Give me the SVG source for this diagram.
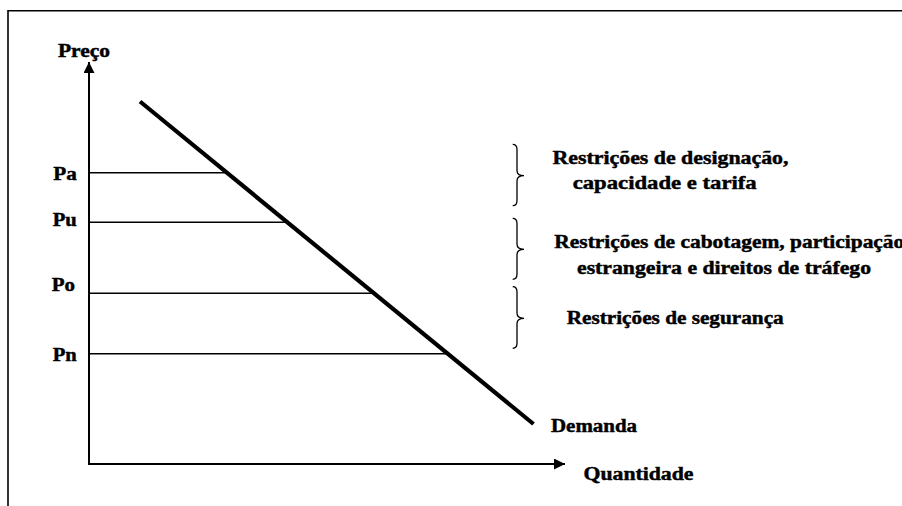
<svg xmlns="http://www.w3.org/2000/svg" width="902" height="506" viewBox="0 0 902 506">
<style>
text{font-family:"Liberation Serif","Times New Roman",serif;font-weight:bold;font-size:18.5px;fill:#000;stroke:#000;stroke-width:0.45}
.ax{stroke:#000;stroke-width:2;fill:none}
.lvl{stroke:#000;stroke-width:1.6;fill:none}
.br{stroke:#000;stroke-width:1.3;fill:none}
</style>
<defs>
<marker id="arr" markerWidth="12" markerHeight="12" refX="11" refY="5.5" orient="auto" markerUnits="userSpaceOnUse">
<path d="M0,0 L11,5.5 L0,11 Z" fill="#000"/>
</marker>
</defs>
<rect width="902" height="506" fill="#fff"/>
<g id="frame">
<path d="M8,506 L8,10.75 L902,10.75" stroke="#000" stroke-width="1.6" fill="none"/>
</g>
<g id="connectors">
<line class="ax" x1="89" y1="465" x2="89" y2="62" marker-end="url(#arr)"/>
<line class="ax" x1="88" y1="464" x2="565" y2="464" marker-end="url(#arr)"/>
<line class="lvl" x1="89" y1="172.8" x2="228" y2="172.8"/>
<line class="lvl" x1="89" y1="222.3" x2="288" y2="222.3"/>
<line class="lvl" x1="89" y1="293.3" x2="374" y2="293.3"/>
<line class="lvl" x1="89" y1="353.7" x2="447" y2="353.7" stroke-width="2"/>
</g>
<g id="demanda">
<line x1="140" y1="101.5" x2="533.5" y2="424" stroke="#000" stroke-width="4.2"/>
<text x="551" y="432" textLength="86" lengthAdjust="spacingAndGlyphs">Demanda</text>
</g>
<g id="eixo-y"><text x="58" y="57" textLength="52" lengthAdjust="spacingAndGlyphs">Preço</text></g>
<g id="eixo-x"><text x="583.5" y="480" textLength="110" lengthAdjust="spacingAndGlyphs">Quantidade</text></g>
<g id="pa"><text x="53.3" y="180" textLength="23.5" lengthAdjust="spacingAndGlyphs">Pa</text></g>
<g id="pu"><text x="52.7" y="226" textLength="24" lengthAdjust="spacingAndGlyphs">Pu</text></g>
<g id="po"><text x="51.7" y="290.5" textLength="23.3" lengthAdjust="spacingAndGlyphs">Po</text></g>
<g id="pn"><text x="52.7" y="361" textLength="24" lengthAdjust="spacingAndGlyphs">Pn</text></g>
<g id="restricao1">
<path class="br" d="M512.7,144.3 Q517,144.3 517,149.5 L517,170.5 Q517,175.7 524,175.7 Q517,175.7 517,181 L517,200.5 Q517,205.7 512.7,205.7"/>
<text x="552.5" y="164" textLength="236" lengthAdjust="spacingAndGlyphs">Restrições de designação,</text>
<text x="572.7" y="189" textLength="184" lengthAdjust="spacingAndGlyphs">capacidade e tarifa</text>
</g>
<g id="restricao2">
<path class="br" d="M512.7,218.3 Q517,218.3 517,223.5 L517,244 Q517,249.3 524,249.3 Q517,249.3 517,254.5 L517,274 Q517,279.3 512.7,279.3"/>
<text x="554.3" y="248" textLength="350" lengthAdjust="spacingAndGlyphs">Restrições de cabotagem, participação</text>
<text x="577" y="273.5" textLength="294" lengthAdjust="spacingAndGlyphs">estrangeira e direitos de tráfego</text>
</g>
<g id="restricao3">
<path class="br" d="M512.7,286.7 Q517,286.7 517,292 L517,313 Q517,318.3 524,318.3 Q517,318.3 517,323.5 L517,343 Q517,348.3 512.7,348.3"/>
<text x="566.7" y="324" textLength="217" lengthAdjust="spacingAndGlyphs">Restrições de segurança</text>
</g>
</svg>
